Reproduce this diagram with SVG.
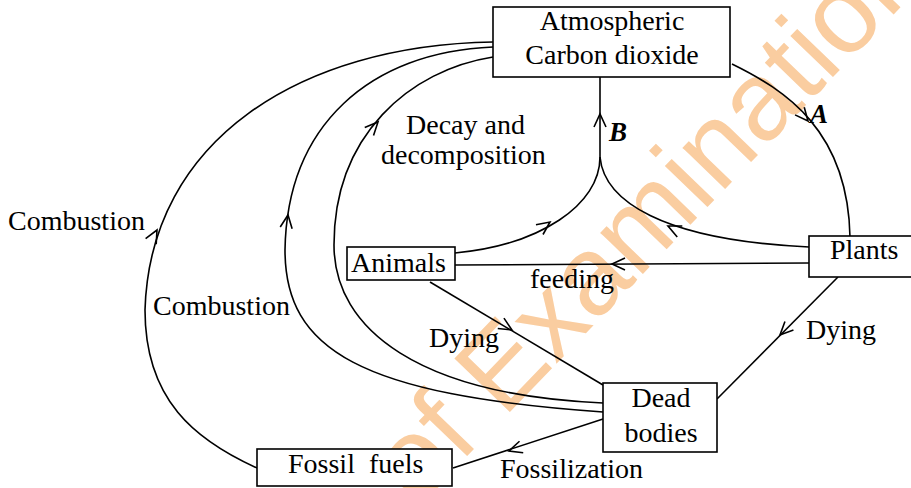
<svg xmlns="http://www.w3.org/2000/svg" xmlns:xlink="http://www.w3.org/1999/xlink" width="911" height="488" viewBox="0 0 911 488">
<style>
.box{fill:#fff;stroke:#000;stroke-width:1.6}
.ln{fill:none;stroke:#000;stroke-width:1.6}
.t{font-family:"Liberation Serif","Times New Roman",serif;font-size:28px;fill:#000}
.c{text-anchor:middle}
.lab{font-family:"Liberation Serif","Times New Roman",serif;font-size:27px;font-weight:bold;font-style:italic;fill:#000}
.wm{font-family:"Liberation Sans",Arial,sans-serif;font-size:112px;fill:#FACDA0}
</style>
<defs>
<path id="chev" d="M-13,-6 L0,0 L-13,6" fill="none" stroke="#000" stroke-width="1.6"/>
</defs>
<rect width="911" height="488" fill="#fff"/>
<g id="watermark" transform="translate(417,508) rotate(-46)"><text class="wm" x="0" y="0">of Examinations</text></g>
<g id="connectors">
<path class="ln" d="M493,42 C300,45 150,140 145,310 C145,400 195,440 257,468"/>
<path class="ln" d="M493,47 C370,52 287,125 285,250 C285,350 360,395 603,412"/>
<path class="ln" d="M493,57 C410,70 334,135 334,245 C334,330 420,395 603,403"/>
<path class="ln" d="M732,64 C785,90 848,130 850,237"/>
<path class="ln" d="M600,77 L600,157"/>
<path class="ln" d="M600,157 C600,205 540,245 455,253"/>
<path class="ln" d="M600,157 C604,200 660,240 809,247"/>
<path class="ln" d="M809,263 L455,265"/>
<path class="ln" d="M430,282 L603,385"/>
<path class="ln" d="M838,277 L717,399"/>
<path class="ln" d="M603,419 L453,468"/>
<use xlink:href="#chev" transform="translate(157,230) rotate(-62)"/>
<use xlink:href="#chev" transform="translate(288,215) rotate(-82)"/>
<use xlink:href="#chev" transform="translate(378,122) rotate(-47)"/>
<use xlink:href="#chev" transform="translate(808,121) rotate(50)"/>
<use xlink:href="#chev" transform="translate(600,114) rotate(-90)"/>
<use xlink:href="#chev" transform="translate(550,222) rotate(-36)"/>
<use xlink:href="#chev" transform="translate(668,226) rotate(205)"/>
<use xlink:href="#chev" transform="translate(612,264) rotate(180)"/>
<use xlink:href="#chev" transform="translate(512,330) rotate(31)"/>
<use xlink:href="#chev" transform="translate(780,335) rotate(135)"/>
<use xlink:href="#chev" transform="translate(509,451) rotate(162)"/>
</g>
<g id="atm">
<rect class="box" x="493" y="7" width="237" height="70"/>
<text class="t c" x="612" y="30">Atmospheric</text>
<text class="t c" x="612" y="64">Carbon dioxide</text>
</g>
<g id="plants">
<rect class="box" x="809" y="236" width="110" height="41"/>
<text class="t" x="830" y="259">Plants</text>
</g>
<g id="animals">
<rect class="box" x="347" y="247" width="108" height="33"/>
<text class="t" x="351" y="272">Animals</text>
</g>
<g id="dead">
<rect class="box" x="603" y="383" width="114" height="69"/>
<text class="t c" x="661" y="407">Dead</text>
<text class="t c" x="661" y="442">bodies</text>
</g>
<g id="fossil">
<rect class="box" x="257" y="449" width="195" height="37"/>
<text class="t" x="288" y="473" xml:space="preserve">Fossil  fuels</text>
</g>
<g id="labels">
<text class="t" x="8" y="230">Combustion</text>
<text class="t" x="153" y="315">Combustion</text>
<text class="t" x="406" y="134">Decay and</text>
<text class="t" x="381" y="164">decomposition</text>
<text class="t" x="530" y="288">feeding</text>
<text class="t" x="429" y="347">Dying</text>
<text class="t" x="806" y="339">Dying</text>
<text class="t" x="500" y="478">Fossilization</text>
<text class="lab" x="810" y="123">A</text>
<text class="lab" x="609" y="141">B</text>
</g>
</svg>
